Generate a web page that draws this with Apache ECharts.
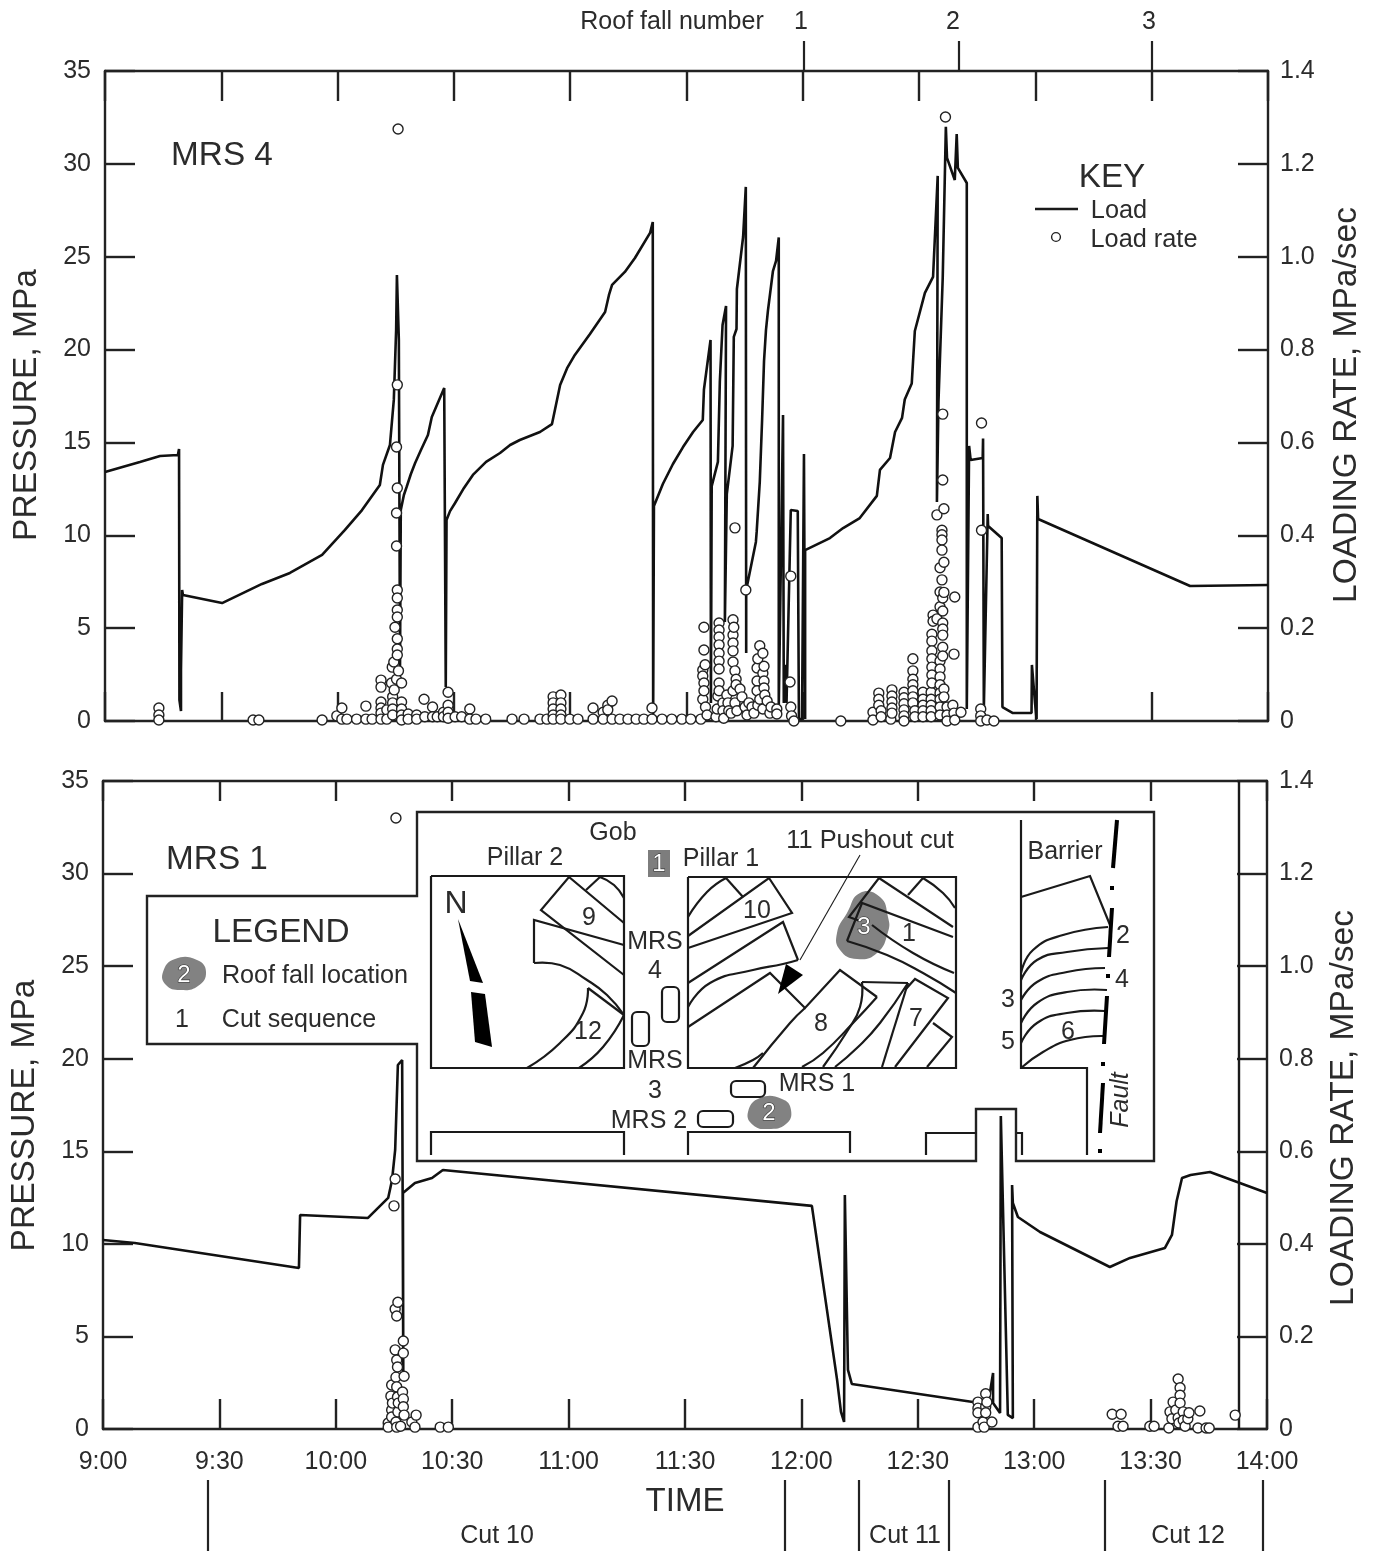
<!DOCTYPE html>
<html>
<head>
<meta charset="utf-8">
<style>html,body{margin:0;padding:0;background:#fff}#chart{width:1380px;height:1551px}</style>
<script src="https://cdn.jsdelivr.net/npm/echarts@6/dist/echarts.min.js"></script>
</head>
<body>
<div id="chart"></div>
<script>
// ---- axes ----
const timeTickLabels = ['9:00','9:30','10:00','10:30','11:00','11:30','12:00','12:30','13:00','13:30','14:00'];
const rateTickLabels = ['0','0.2','0.4','0.6','0.8','1.0','1.2','1.4'];
const roofFallTimes = [180.3, 220.3, 270];
const cutBoundaryTimes = [27.1, 175.8, 194.8, 218, 258.2, 299];

// ---- MRS 4: [minutes after 9:00, pressure MPa] ----
const loadMRS4 = [[0,13.41],[9,13.95],[14.2,14.27],[18.8,14.32],[19.1,14.65],[19.2,1.13],[19.6,.54],[19.6,2.75],[19.9,7.05],[20.1,6.79],[30.2,6.35],[40.5,7.38],[47.7,7.97],[56,8.94],[61.9,10.29],[66.3,11.36],[70.9,12.71],[71.7,13.79],[73.5,14.86],[74.5,17.29],[75.1,21.06],[75.3,24.02],[75.8,20.52],[76.1,2.75],[76.3,11.36],[77.1,12.17],[77.8,12.6],[78.9,13.3],[80,13.89],[81.5,14.59],[83.3,15.4],[84.3,16.37],[87.5,17.93],[87.9,1.83],[88.1,10.82],[89,11.3],[90.3,11.74],[92.6,12.55],[94.9,13.25],[98.3,13.95],[101.9,14.43],[104.5,14.86],[107,15.13],[112.2,15.56],[115.3,15.99],[117.4,18.09],[119.2,19],[121.2,19.71],[125.1,20.84],[129,22.02],[130,22.94],[130.8,23.48],[134.1,24.18],[136.7,24.93],[140.6,26.28],[141.3,26.87],[141.4,.32],[141.6,11.58],[143.9,12.76],[146.5,13.84],[149.1,14.75],[151.7,15.56],[154.2,16.21],[154.5,17.85],[156.2,20.52],[156.3,.97],[156.5,12.65],[158.1,13.95],[158.6,18.28],[159.3,21.32],[160.2,22.35],[159.9,5.33],[160.4,12.22],[161.9,14.81],[162.2,20.68],[162.9,21.11],[163,23.26],[164.6,26.06],[165.3,28.76],[165.4,3.66],[165.4,7.05],[167.9,9.64],[168.1,10.18],[168.9,12.87],[169.5,16.2],[170,19.39],[170.5,21.05],[171,22.08],[172.3,24.23],[173.1,24.77],[173.8,26.04],[173.8,.75],[174.9,16.48],[175.1,.97],[175.4,3.02],[175.8,.97],[176.9,11.36],[178.7,11.31],[179,.11],[179.8,.11],[180.3,14.38],[180.6,.11],[180.6,9.2],[187,9.85],[190.4,10.39],[194.7,10.93],[199.1,12.12],[199.9,13.52],[202.5,14.16],[203.8,15.56],[205.6,16.32],[206.3,17.31],[208.1,18.17],[208.9,21],[211.5,23.05],[213.6,23.91],[214.8,29.35],[214.6,11.79],[215,17.2],[216.1,23.91],[216.9,31.99],[217.3,31.99],[217.2,30.32],[219.2,29.13],[219.7,31.61],[220,29.78],[222.3,28.97],[222.3,.65],[222.9,14.81],[223.3,14.05],[226.4,14.16],[226.5,15.21],[226.7,.65],[227.7,11.15],[227.8,10.5],[231.3,9.85],[231.5,.75],[234.2,.43],[239,.43],[239.1,3.02],[239.9,.97],[240.3,.11],[240.5,12.12],[240.7,10.88],[279.9,7.27],[300,7.32]];

// ---- MRS 4 load rate: each row is [minutes after 9:00, rate, rate, ...] in MPa/sec ----
const rateMRS4 = [[13.9,.028,.013,.002],[38.2,.002],[39.7,.002],[56,.002],[59.8,.011],[61.1,.028,.004],[62.4,.004],[64.9,.004],[67.3,.032,.004],[68.9,.004],[71.2,.088,.073,.041,.028,.017,.004],[72.7,.024,.004],[73.9,.082],[74.1,.116],[74.2,.052,.039,.026,.013],[74.5,.127],[74.6,.067],[74.8,.202],[75.2,.59,.448,.377,.09],[75.4,.724,.502,.282,.265,.239,.224,.177,.155,.142],[75.6,1.275],[75.7,.108],[76.5,.082,.041,.026,.013,.002],[78.2,.015,.004],[80.4,.013,.004],[82.3,.047],[82.5,.009],[84.5,.03,.009],[85.7,.009],[87.3,.019,.009],[88.5,.062,.034,.019,.006],[90.3,.009],[92,.009],[94.1,.026,.004],[95.7,.004],[98.2,.004],
[105,.004],[108.1,.004],[112.2,.004],[114,.004],[115.6,.052,.039,.026,.013,.004],[117.6,.056,.039,.026,.013,.004],[119.9,.004],[122,.004],[125.9,.028,.004],[128.5,.019,.004],[129.7,.034,.024],[130.8,.043,.004],[132.8,.004],[134.9,.004],[137,.004],[139,.004],[141.1,.028,.004],[143.7,.004],[146.2,.004],[148.8,.004],[151.1,.004],[153.7,.004],
[154.2,.11,.097,.047],[154.5,.202,.153,.082,.065],[154.8,.121],[154.9,.03],[155.3,.013],[157.6,.009],[157.9,.026],[158.1,.054],[158.4,.211,.196,.181,.164,.146,.129,.112,.082,.065],[159.4,.039,.022],[159.6,.006],[160.4,.056],[160.7,.039],[160.9,.022],[161.5,.017],[162,.218,.185,.168,.151,.127,.065],[162.2,.202],[162.5,.416,.108,.039],[162.8,.09,.078],[163,.022],[163.8,.069],[164.3,.052],[165.1,.03],[165.3,.282],[165.6,.013],[166.1,.039],[166.9,.03],[167.4,.017],[168.2,.114,.086,.065],[168.4,.134,.034],[168.9,.162,.047],[169.7,.146,.103,.026],[170,.118,.086,.071],[170.2,.056],[170.8,.043],[171.5,.017],[171.8,.03],[173.3,.026,.015],[176.7,.084],[176.9,.312,.03],[177.1,.011],[177.7,0],[189.8,0],
[198.1,.019,.002],[199.6,.06,.047,.034],[200.2,.022,.009],[202.7,.004],[203,.067,.054,.041,.028,.017],[206.1,.062,.05,.037,.024,.011,0],[208.4,.134,.108,.09,.078,.065,.052,.039],[208.9,.022,.009],[211,.062,.047,.034,.022,.009],[213.1,.062,.047,.034,.022,.009],[213.3,.187,.172,.151,.134,.116,.099,.082],[213.6,.228,.215],[214.6,.444,.22],[215.4,.33,.278,.246,.129,.112,.095,.078,.06,.047,.03,.013],[215.9,.411,.401,.39,.368,.304],[216.1,.661,.519,.265,.237,.211,.198,.185,.159,.14],[216.4,.457,.342,.277,.069,.052],[216.8,1.301],[217.2,.03,.013,0],[218.7,.034],[219,.144,.017],[219.2,.267,.002],[220.8,.019],[225.9,.026,.011,0],[226.1,.642,.411],[227.5,.002],[229.3,0]];

// ---- MRS 1: [minutes after 9:00, pressure MPa] ----
const loadMRS1 = [[0,10.21],[8.2,10.05],[50.5,8.7],[50.8,11.56],[68.3,11.4],[73.5,12.48],[74.5,13.45],[75.3,15.07],[76,19.66],[77.1,19.93],[77.4,2.65],[77.3,12.75],[80.4,13.29],[84.8,13.56],[87.6,13.99],[182.7,12.05],[189.2,2.65],[190.2,.92],[191,.38],[191.2,12.64],[192,3.19],[193,2.43],[224.2,1.46],[228.1,1.3],[229.4,3.03],[229.4,1.4],[231.2,.86],[231.4,16.91],[233.2,.76],[234.5,.59],[234.3,13.18],[234.5,12.21],[235.8,11.45],[241.5,10.64],[259.5,8.75],[264.7,9.24],[273.7,9.78],[275.5,10.48],[276.7,12.3],[278.1,13.56],[280.3,13.72],[285.3,13.88],[293,13.29],[300,12.75]];

// ---- MRS 1 load rate ----
const rateMRS1 = [[73.5,.013,.004],[74.2,.071],[74.4,.095,.041,.026],[74.6,.056],[75,.482],[75.3,.54,.259,.171],[75.5,1.32,.112,.015],[75.7,.244,.149,.091,.004],[75.9,.134,.069],[76,.274,.037],[76.1,.056],[76.7,.006],[77.2,.08],[77.4,.19,.164,.065,.048],[77.6,.114,.03],[79.6,.015],[80.4,.004],[80.7,.03],[86.9,.004],[89,.004],
[225.5,.058,.045,.035,.004],[226.8,.015],[227.1,.004],[227.5,.076,.048,.035],[227.8,.058],[229.1,.015],
[260.1,.032],[262.4,.032],[261.6,.006],[262.9,.006],[269.8,.006],[270.9,.006],[274.7,.002],[275,.037],[275.5,.022],[275.8,.058],[276.5,.041],[277.1,.108,.024],[277.3,.013],[277.6,.089,.073,.056],[278.4,.037,.019],[278.9,.006],[279.6,.022],[279.9,.035],[282.2,.002],[282.7,.039],[284.3,.002],[285.1,.002],[291.8,.03]];

// ---- inset plan, in page units of the overlay axis ----
const insetFrame = [[147,896],[417,896],[417,812],[1154,812],[1154,1161],[1016,1161],[1016,1109],[976,1109],[976,1161],[417,1161],[417,1044],[147,1044]];
const planStraight = [
 [[431,876],[624,876],[624,1068],[431,1068],[431,876]],
 [[688,877],[956,877],[956,1068],[688,1068],[688,877]],
 [[624,975],[541,910],[569,877],[624,923]],
 [[586,890],[600,877]],
 [[624,945],[534,920],[534,963]],
 [[624,1015],[588,988]],
 [[726,878],[743,897]],
 [[688,936],[769,878],[792,913],[688,948]],
 [[688,983],[783,922],[798,960]],
 [[688,1027],[770,973],[805,1008],[840,970],[877,997]],
 [[862,982],[908,983]],
 [[905,990],[915,979],[948,998],[895,1067]],
 [[933,1023],[952,1037],[927,1067]],
 [[953,927],[879,878],[849,917],[860,921]],
 [[953,937],[862,903],[847,941]],
 [[908,895],[923,878]],
 [[908,983],[882,1067]],
 [[1021,820],[1021,1068],[1087,1068],[1087,1155]],
 [[1021,897],[1090,876],[1110,925]],
 [[431,1155],[431,1132],[624,1132],[624,1155]],
 [[688,1155],[688,1132],[850,1132],[850,1153]],
 [[926,1155],[926,1133],[977,1133]],
 [[1017,1133],[1022,1133],[1022,1155]]
];
const planCurved = [
 [[600,877],[614,885],[624,898]],
 [[534,963],[560,965],[587,980],[607,995],[624,1015]],
 [[588,988],[583,1013],[560,1043],[527,1068]],
 [[624,1015],[603,1047],[579,1068]],
 [[688,917],[707,892],[726,878]],
 [[688,1007],[710,983],[753,970],[783,964],[798,960]],
 [[805,1008],[790,1023],[753,1068]],
 [[735,1068],[753,1060],[763,1053]],
 [[877,997],[853,1023],[823,1053],[802,1067]],
 [[862,982],[860,1007],[848,1030],[823,1067]],
 [[908,983],[880,1023],[858,1047],[835,1067]],
 [[847,941],[887,955],[923,973],[956,993]],
 [[872,925],[913,953],[954,973]],
 [[923,878],[943,893],[955,908]],
 [[1021,973],[1033,950],[1063,935],[1108,927]],
 [[1021,980],[1037,960],[1067,952],[1108,948]],
 [[1021,1000],[1037,982],[1067,972],[1105,968]],
 [[1021,1023],[1037,1003],[1067,992],[1107,990]],
 [[1021,1043],[1037,1023],[1067,1013],[1105,1011]],
 [[1021,1068],[1043,1052],[1070,1040],[1103,1036]]
];
const faultSegments = [[[1117,820],[1113,868]],[[1112,886],[1112,890]],[[1112,908],[1109,957]],[[1108,974],[1108,978]],[[1107,996],[1104,1044]],[[1103,1062],[1103,1066]],[[1103,1083],[1100,1133]],[[1100,1149],[1100,1153]]];
const pillarBoxes = [[662,987,679,1022],[632,1012,649,1046],[731,1081,765,1097],[698,1111,733,1127]];
const northArrow = [[[458,919],[483,983],[470,981]],[[471,992],[485,994],[492,1047],[475,1042]]];
const cutArrow = [[786,964],[803,975],[778,994]];
const fallBlobs = [
 [[860,893],[880,897],[888,917],[888,932],[877,953],[857,959],[840,950],[837,933],[847,913]],
 [[760,1098],[782,1099],[791,1110],[786,1124],[768,1129],[753,1125],[748,1112]],
 [[175,959],[197,960],[206,972],[198,986],[180,990],[166,985],[163,972]]
];
const fallSquare = [[648,850],[670,850],[670,877],[648,877]];
const leader = [[860,855],[800,960]];
const extraFrameLine = [[1239,781],[1239,1429]];
const keyLine = [[1035,209],[1078,209]];
const keyDot = [1056,237];

// text, x, y, font size
const notes = [
 ['Roof fall number',672,21,25],['1',801,21,25],['2',953,21,25],['3',1149,21,25],
 ['MRS 4',222,155,33.3],['KEY',1112,177,33.3],['Load',1119,210,25.3],['Load rate',1144,239,25.3],
 ['MRS 1',217,859,33.3],['LEGEND',281,932,33.3],['Roof fall location',315,975,25.2],['1',182,1019,25],['Cut sequence',299,1019,25],
 ['Gob',613,832,25],['Pillar 2',525,857,25],['Pillar 1',721,858,25],['11 Pushout cut',870,840,25.4],['N',456,903,32],
 ['9',589,917,25],['MRS',655,941,25],['4',655,970,25],['12',588,1031,25],['MRS',655,1060,25],['3',655,1090,25],['MRS 2',649,1120,25],['MRS 1',817,1083,25],
 ['10',757,910,25],['1',909,933,25],['8',821,1023,25],['7',916,1018,25],['Barrier',1065,851,25],['2',1123,935,25],['4',1122,979,25],['3',1008,999,25],['5',1008,1041,25],['6',1068,1031,25],
 ['TIME',685,1501,33],['Cut 10',497,1535,25],['Cut 11',905,1535,25],['Cut 12',1188,1535,25]
];
const blobNumbers = [['3',864,926],['2',769,1112],['2',184,974],['1',659,863]];

const expand = rows => rows.flatMap(r => r.slice(1).map(v => [r[0], v]));
const INK = '#222', TXT = '#2b2b2b', FONT = '"Liberation Sans", Arial, sans-serif';
const tickStyle = {color: INK, width: 2.4};
const lineAx = {show: true, onZero: false, lineStyle: tickStyle};

function timeAxis(gridIndex, position, len, labels) {
  return {type:'value', gridIndex, position, min:0, max:300, interval:30, splitLine:{show:false},
    axisLine: lineAx, axisTick:{show:true, inside:true, length:len, lineStyle:tickStyle},
    axisLabel: labels ? {show:true, margin:21, fontSize:25, color:TXT, fontFamily:FONT, hideOverlap:false, showMinLabel:true, showMaxLabel:true,
      formatter:v => timeTickLabels[Math.round(v/30)]} : {show:false}};
}
function markAxis(gridIndex, position, offset, values, len) {
  return {type:'value', gridIndex, position, offset, min:0, max:300, splitLine:{show:false},
    axisLine:{show:false, onZero:false}, axisLabel:{show:false},
    axisTick:{show:true, inside:false, length:len, customValues:values, lineStyle:{color:INK, width:2.2}}};
}
function pressureAxis(gridIndex, pad, gap) {
  return {type:'value', gridIndex, position:'left', min:0, max:35, interval:5, splitLine:{show:false},
    name:'PRESSURE, MPa', nameLocation:'middle', nameGap:gap, nameRotate:90,
    nameTextStyle:{fontSize:33.5, color:TXT, fontFamily:FONT, padding:[0,pad,0,0]},
    axisLine: lineAx, axisTick:{show:true, inside:true, length:30, lineStyle:tickStyle},
    axisLabel:{show:true, margin:14, fontSize:25, color:TXT, fontFamily:FONT, padding:[3,0,0,0]}};
}
function rateAxis(gridIndex, pad, gap) {
  return {type:'value', gridIndex, position:'right', min:0, max:1.4, interval:0.2, splitLine:{show:false},
    name:'LOADING RATE, MPa/sec', nameLocation:'middle', nameGap:gap, nameRotate:90,
    nameTextStyle:{fontSize:33.5, color:TXT, fontFamily:FONT, padding:[0,pad,0,0]},
    axisLine: lineAx, axisTick:{show:true, inside:true, length:30, lineStyle:tickStyle},
    axisLabel:{show:true, margin:12, fontSize:25, color:TXT, fontFamily:FONT, padding:[3,0,0,0], formatter:v => rateTickLabels[Math.round(v/0.2)]}};
}
function loadSeries(name, xi, yi, data) {
  return {name, type:'line', xAxisIndex:xi, yAxisIndex:yi, data, showSymbol:false, symbol:'none', silent:true, z:3,
    lineStyle:{color:'#111', width:2.6, join:'bevel'}, animation:false};
}
function rateSeries(name, xi, yi, data) {
  return {name, type:'scatter', xAxisIndex:xi, yAxisIndex:yi, data, symbol:'circle', symbolSize:10, silent:true, z:4, clip:false,
    itemStyle:{color:'#fff', borderColor:'#222', borderWidth:1.4, opacity:1}, animation:false};
}

// overlay drawing: everything goes through the overlay axes via api.coord
function renderPlan(params, api) {
  const P = pts => pts.map(p => api.coord(p));
  const kids = [];
  const stroke = (pts, w, smooth, color) => kids.push({type:'polyline', shape:{points:P(pts), smooth:smooth||0}, style:{stroke:color||'#1a1a1a', lineWidth:w, fill:null, lineJoin:'miter'}});
  const poly = (pts, fill, smooth) => kids.push({type:'polygon', shape:{points:P(pts), smooth:smooth||0}, style:{fill}});
  kids.push({type:'polygon', shape:{points:P(insetFrame)}, style:{fill:'#fff', stroke:INK, lineWidth:2.4}});
  fallBlobs.forEach(b => poly(b, '#828282', 0.5));
  poly(fallSquare, '#7d7d7d');
  stroke(extraFrameLine, 2.4);
  planStraight.forEach(l => stroke(l, 2.2));
  planCurved.forEach(l => stroke(l, 2.2, 0.5));
  faultSegments.forEach(l => stroke(l, 4, 0, '#000'));
  stroke(leader, 1.1);
  northArrow.forEach(a => poly(a, '#000'));
  poly(cutArrow, '#000');
  pillarBoxes.forEach(b => {
    const a = api.coord([b[0], b[1]]), c = api.coord([b[2], b[3]]);
    kids.push({type:'rect', shape:{x:a[0], y:a[1], width:c[0]-a[0], height:c[1]-a[1], r:5}, style:{fill:'#fff', stroke:'#1a1a1a', lineWidth:2.2}});
  });
  stroke(keyLine, 2.4);
  const kd = api.coord(keyDot);
  kids.push({type:'circle', shape:{cx:kd[0], cy:kd[1], r:4.4}, style:{fill:'#fff', stroke:'#222', lineWidth:1.4}});
  notes.forEach(n => {
    const c = api.coord([n[1], n[2]]);
    kids.push({type:'text', style:{text:n[0], x:c[0], y:c[1]+1, fontSize:n[3], fontFamily:FONT, fill:TXT, align:'center', verticalAlign:'middle'}});
  });
  blobNumbers.forEach(n => {
    const c = api.coord([n[1], n[2]]);
    kids.push({type:'text', style:{text:n[0], x:c[0], y:c[1]+1, fontSize:24, fontFamily:FONT, fill:'#fff', stroke:'#333', lineWidth:1.2, align:'center', verticalAlign:'middle'}});
  });
  const f = api.coord([1121,1100]);
  kids.push({type:'text', x:f[0], y:f[1], rotation:Math.PI/2, style:{text:'Fault', x:0, y:0, fontSize:25, fontStyle:'italic', fontFamily:FONT, fill:TXT, align:'center', verticalAlign:'middle'}});
  return {type:'group', children:kids};
}

const chart = echarts.init(document.getElementById('chart'));
chart.setOption({
  animation:false,
  backgroundColor:'#fff',
  grid:[
    {left:105, width:1163, top:71, height:650, outerBoundsMode:'none'},
    {left:103, width:1164, top:781, height:648, outerBoundsMode:'none'},
    {left:0, top:0, width:1380, height:1551, outerBoundsMode:'none'}
  ],
  xAxis:[
    timeAxis(0,'bottom',29,false), timeAxis(0,'top',30,false), markAxis(0,'top',0,roofFallTimes,30),
    timeAxis(1,'bottom',30,true), timeAxis(1,'top',20,false), markAxis(1,'bottom',51,cutBoundaryTimes,71),
    {type:'value', gridIndex:2, min:0, max:1380, show:false}
  ],
  yAxis:[
    pressureAxis(0,18,61), rateAxis(0,18,62),
    pressureAxis(1,21,61), rateAxis(1,6,60),
    {type:'value', gridIndex:2, min:0, max:1551, inverse:true, show:false}
  ],
  series:[
    {type:'custom', name:'Inset plan', xAxisIndex:6, yAxisIndex:4, z:1, silent:true, clip:false, data:[[0,0]], renderItem:renderPlan},
    loadSeries('Load',0,0,loadMRS4),
    rateSeries('Load rate',0,1,expand(rateMRS4)),
    loadSeries('Load',3,2,loadMRS1),
    rateSeries('Load rate',3,3,expand(rateMRS1))
  ]
});
</script>
</body>
</html>
